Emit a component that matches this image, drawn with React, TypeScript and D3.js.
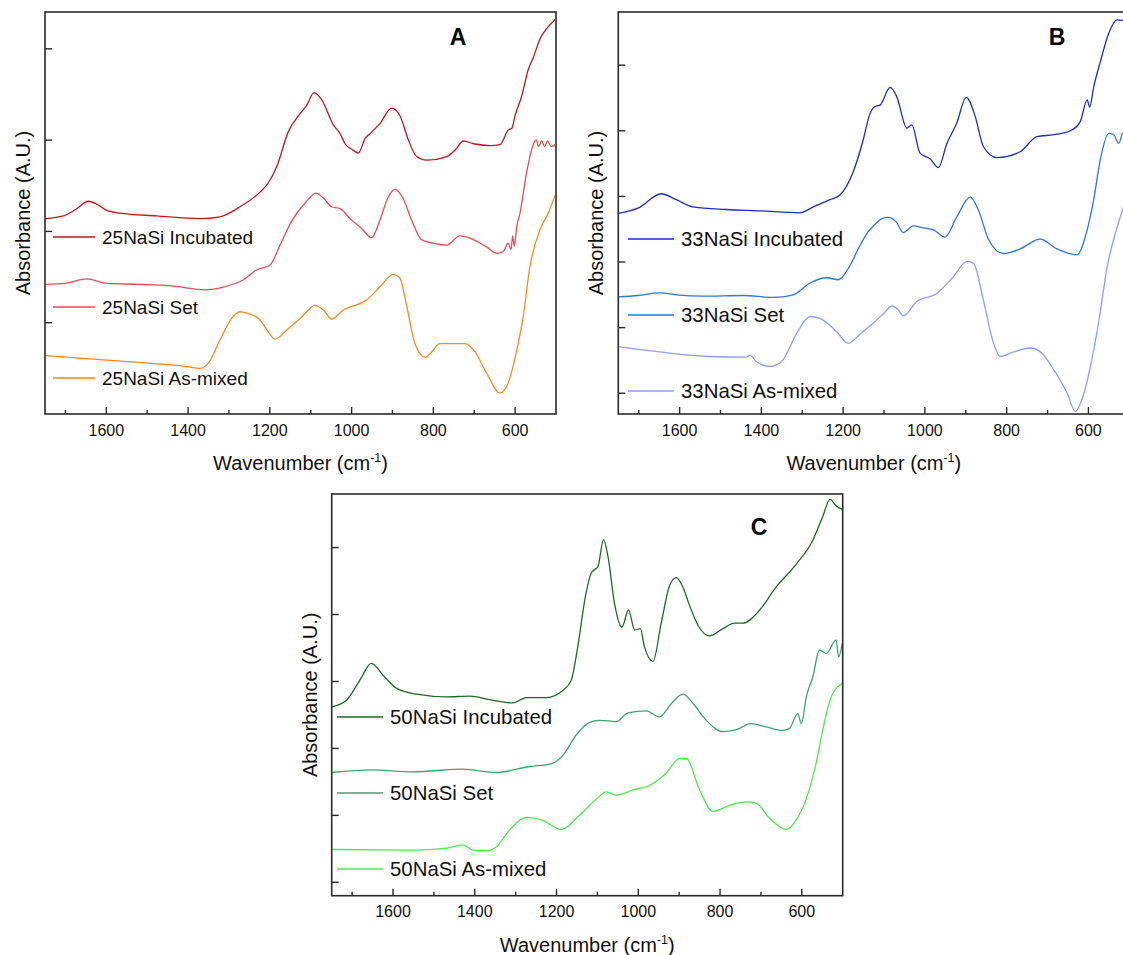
import React from 'react';
import * as d3 from 'd3';

const FONT = '"Liberation Sans", Arial, Helvetica, sans-serif';

// ---------- Panel A : 25NaSi ----------
const wnA_inc = [1750,1705,1675,1644,1620,1599,1567,1477,1371,1322,1273,1224,1204,1183,1155,1126,1110,1092,1073,1045,1028,1016,1000,983,967,955,931,902,882,861,841,816,767,745,727,702,661,637,617,608,600,584,568,555,539,523,502];
const abA_inc = [2.14,2.17,2.24,2.33,2.29,2.23,2.20,2.17,2.14,2.16,2.27,2.43,2.53,2.71,3.09,3.29,3.38,3.52,3.44,3.17,3.07,2.96,2.90,2.86,3.02,3.07,3.18,3.35,3.27,3.00,2.82,2.78,2.82,2.90,2.99,2.96,2.94,2.95,3.11,3.13,3.27,3.48,3.77,3.91,4.11,4.22,4.32];

const wnA_set = [1750,1701,1648,1599,1518,1436,1359,1314,1265,1232,1200,1175,1147,1110,1087,1070,1049,1028,1004,975,951,931,910,894,874,853,829,800,767,735,702,670,645,629,617,610,606,602,596,588,572,555,548,543,535,528,520,512,502];
const abA_set = [1.42,1.43,1.48,1.43,1.42,1.40,1.36,1.39,1.47,1.58,1.63,1.85,2.11,2.33,2.42,2.37,2.27,2.25,2.14,2.03,1.93,2.12,2.38,2.46,2.36,2.12,1.91,1.87,1.85,1.95,1.91,1.83,1.76,1.78,1.87,1.80,1.95,1.84,2.05,2.20,2.64,2.96,3.00,2.93,2.99,2.93,2.99,2.93,2.95];

const wnA_mix = [1750,1599,1477,1403,1371,1350,1322,1293,1273,1253,1224,1204,1187,1159,1118,1090,1069,1049,1020,963,931,898,882,865,845,820,804,784,751,723,698,670,637,617,596,580,564,539,519,502];
const abA_mix = [0.64,0.59,0.55,0.52,0.50,0.56,0.81,1.05,1.12,1.10,1.03,0.90,0.82,0.92,1.08,1.19,1.14,1.04,1.14,1.25,1.39,1.53,1.49,1.18,0.77,0.62,0.68,0.77,0.77,0.77,0.68,0.45,0.23,0.34,0.70,1.07,1.61,2.02,2.20,2.40];

// ---------- Panel B : 33NaSi ----------
const wnB_inc = [1750,1702,1645,1608,1567,1486,1404,1306,1273,1232,1208,1175,1151,1135,1122,1110,1085,1069,1044,1032,1012,987,967,946,922,899,877,857,824,767,726,685,644,620,603,597,587,571,550,530,514];
const abB_inc = [2.74,2.82,3.04,2.95,2.84,2.80,2.78,2.75,2.84,2.95,3.02,3.38,3.86,4.25,4.37,4.39,4.66,4.52,4.04,4.09,3.66,3.57,3.44,3.81,4.12,4.51,4.22,3.76,3.59,3.68,3.91,3.94,4.00,4.14,4.47,4.36,4.67,5.05,5.49,5.69,5.68];

const wnB_set = [1750,1702,1649,1608,1543,1445,1371,1322,1281,1240,1212,1183,1159,1140,1126,1105,1089,1069,1053,1028,1004,979,951,922,889,869,844,808,767,718,677,628,603,587,571,550,538,526,517];
const abB_set = [1.47,1.49,1.53,1.50,1.48,1.49,1.46,1.50,1.68,1.76,1.73,1.95,2.25,2.45,2.55,2.66,2.68,2.60,2.45,2.55,2.52,2.49,2.38,2.69,2.99,2.79,2.34,2.13,2.20,2.35,2.20,2.11,2.49,2.95,3.56,3.96,3.94,3.81,3.97];

const wnB_mix = [1750,1649,1526,1437,1428,1412,1379,1351,1314,1281,1257,1216,1188,1159,1126,1100,1081,1065,1053,1020,971,930,897,881,857,832,816,783,742,714,685,652,632,616,595,574,554,534,514];
const abB_mix = [0.71,0.63,0.56,0.55,0.58,0.48,0.41,0.48,0.91,1.17,1.14,0.94,0.76,0.90,1.07,1.22,1.33,1.27,1.18,1.40,1.52,1.78,2.01,1.98,1.42,0.76,0.56,0.63,0.69,0.61,0.36,0.00,-0.28,-0.10,0.41,1.12,1.93,2.44,2.84];

// ---------- Panel C : 50NaSi ----------
const wnC_inc = [1750,1714,1681,1653,1624,1592,1543,1469,1412,1364,1307,1274,1225,1184,1164,1148,1130,1115,1105,1099,1085,1074,1058,1040,1024,1009,995,985,964,944,923,907,891,875,854,826,793,764,744,704,663,614,573,549,531,516,501];
const abC_inc = [2.62,2.72,3.02,3.27,3.09,2.90,2.81,2.77,2.78,2.73,2.68,2.76,2.76,2.87,3.02,3.52,4.25,4.62,4.68,4.71,5.12,4.86,4.16,3.81,4.07,3.77,3.79,3.52,3.30,3.87,4.44,4.55,4.41,4.14,3.84,3.68,3.79,3.87,3.87,4.06,4.41,4.75,5.11,5.46,5.72,5.62,5.57];

const wnC_set = [1750,1653,1551,1429,1347,1266,1213,1184,1152,1119,1095,1054,1025,980,948,919,891,866,834,793,760,724,687,646,630,610,601,589,573,557,540,516,510,501];
const abC_set = [1.64,1.68,1.65,1.69,1.64,1.73,1.77,1.90,2.20,2.39,2.42,2.40,2.53,2.56,2.47,2.67,2.81,2.67,2.42,2.25,2.28,2.37,2.32,2.27,2.30,2.52,2.37,2.77,3.07,3.47,3.42,3.62,3.37,3.57];

const wnC_mix = [1750,1551,1469,1429,1404,1368,1347,1315,1274,1233,1188,1144,1103,1078,1054,1013,972,932,899,883,850,818,777,736,711,679,638,614,589,565,549,528,501];
const abC_mix = [0.49,0.48,0.51,0.56,0.48,0.47,0.53,0.78,0.97,0.92,0.79,1.00,1.24,1.35,1.30,1.38,1.45,1.63,1.85,1.85,1.38,1.06,1.15,1.20,1.18,0.96,0.79,0.93,1.25,1.78,2.27,2.77,2.97];

// ---------- axis ticks ----------
const xMajorTicks = [1600, 1400, 1200, 1000, 800, 600];
const xMinorTicks = [1700, 1500, 1300, 1100, 900, 700];
const xDomain = [1750, 500];

type Series = { label: string; wn: number[]; ab: number[]; color: string };

type PanelProps = {
  id: string;
  x0: number; x1: number; y0: number; y1: number;
  yDomain: [number, number];
  yTicks: number[];
  series: Series[];
  legLineX: [number, number];
  legTextX: number;
  legY: number[];
  legFont: number;
  title: string; titleX: number; titleY: number;
  labelFont: number;
};

function Panel(p: PanelProps) {
  const x = d3.scaleLinear().domain(xDomain).range([p.x0, p.x1]);
  const y = d3.scaleLinear().domain(p.yDomain).range([p.y1, p.y0]);
  const line = d3
    .line<[number, number]>()
    .x((d) => x(d[0]))
    .y((d) => y(d[1]))
    .curve(d3.curveMonotoneX);
  const axisColor = '#2a2a2a';
  const cx = (p.x0 + p.x1) / 2;
  const cy = (p.y0 + p.y1) / 2;
  return (
    <g>
      <defs>
        <clipPath id={'clip' + p.id}>
          <rect x={p.x0} y={p.y0} width={p.x1 - p.x0} height={p.y1 - p.y0} />
        </clipPath>
      </defs>
      <g clipPath={`url(#clip${p.id})`}>
        {p.series.map((s) => (
          <path
            key={s.label}
            d={line(s.wn.map((w, i) => [w, s.ab[i]] as [number, number])) || ''}
            fill="none"
            stroke={s.color}
            strokeWidth={1.3}
            strokeLinejoin="round"
          />
        ))}
      </g>
      <rect x={p.x0} y={p.y0} width={p.x1 - p.x0} height={p.y1 - p.y0} fill="none" stroke={axisColor} strokeWidth={1.6} />
      {xMajorTicks.map((t) => (
        <line key={'M' + t} x1={x(t)} x2={x(t)} y1={p.y1} y2={p.y1 - 7} stroke={axisColor} strokeWidth={1.4} />
      ))}
      {xMinorTicks.map((t) => (
        <line key={'m' + t} x1={x(t)} x2={x(t)} y1={p.y1} y2={p.y1 - 4} stroke={axisColor} strokeWidth={1.4} />
      ))}
      {xMajorTicks.map((t) => (
        <text key={'L' + t} x={x(t)} y={p.y1 + 21.5} textAnchor="middle" fontFamily={FONT} fontSize={16} fill="#111">
          {t}
        </text>
      ))}
      {p.yTicks.map((t) => (
        <line key={'y' + t} x1={p.x0} x2={p.x0 + 7} y1={y(t)} y2={y(t)} stroke={axisColor} strokeWidth={1.4} />
      ))}
      <text x={cx} y={p.y1 + 56} textAnchor="middle" fontFamily={FONT} fontSize={p.labelFont} fill="#111">
        Wavenumber (cm
        <tspan dy={-8} fontSize={p.labelFont * 0.62}>-1</tspan>
        <tspan dy={8}>)</tspan>
      </text>
      <text
        transform={`translate(${p.x0 - 15},${cy}) rotate(-90)`}
        textAnchor="middle"
        fontFamily={FONT}
        fontSize={p.labelFont}
        fill="#111"
      >
        Absorbance (A.U.)
      </text>
      <text x={p.titleX} y={p.titleY + 8} textAnchor="middle" fontFamily={FONT} fontWeight="bold" fontSize={23} fill="#000">
        {p.title}
      </text>
      {p.series.map((s, i) => (
        <g key={'leg' + s.label}>
          <line x1={p.legLineX[0]} x2={p.legLineX[1]} y1={p.legY[i]} y2={p.legY[i]} stroke={s.color} strokeWidth={1.3} />
          <text x={p.legTextX} y={p.legY[i] + p.legFont * 0.36} fontFamily={FONT} fontSize={p.legFont} fill="#111">
            {s.label}
          </text>
        </g>
      ))}
    </g>
  );
}

export default function App() {
  const seriesA: Series[] = [
    { label: '25NaSi Incubated', wn: wnA_inc, ab: abA_inc, color: '#c8141c' },
    { label: '25NaSi Set', wn: wnA_set, ab: abA_set, color: '#f04a52' },
    { label: '25NaSi As-mixed', wn: wnA_mix, ab: abA_mix, color: '#ff8a1c' },
  ];
  const seriesB: Series[] = [
    { label: '33NaSi Incubated', wn: wnB_inc, ab: abB_inc, color: '#1c2ccc' },
    { label: '33NaSi Set', wn: wnB_set, ab: abB_set, color: '#2a78e0' },
    { label: '33NaSi As-mixed', wn: wnB_mix, ab: abB_mix, color: '#8c9cff' },
  ];
  const seriesC: Series[] = [
    { label: '50NaSi Incubated', wn: wnC_inc, ab: abC_inc, color: '#1d6b22' },
    { label: '50NaSi Set', wn: wnC_set, ab: abC_set, color: '#3ca66c' },
    { label: '50NaSi As-mixed', wn: wnC_mix, ab: abC_mix, color: '#48ee48' },
  ];
  return (
    <svg
      width={1123}
      height={955}
      viewBox="0 0 1123 955"
      style={{ position: 'absolute', left: 0, top: 0, background: '#fff' }}
    >
      <rect x={0} y={0} width={1123} height={955} fill="#fff" />
      <Panel
        id="A"
        x0={45} x1={556} y0={12} y1={414}
        yDomain={[0, 4.403]}
        yTicks={[1, 2, 3, 4]}
        series={seriesA}
        legLineX={[53, 95]} legTextX={102} legY={[237, 307, 378]} legFont={19}
        title="A" titleX={458} titleY={37}
        labelFont={20}
      />
      <Panel
        id="B"
        x0={618.3} x1={1129.3} y0={12} y1={414}
        yDomain={[-0.316, 5.81]}
        yTicks={[0, 1, 2, 3, 4, 5]}
        series={seriesB}
        legLineX={[628, 674]} legTextX={681} legY={[239, 315, 391]} legFont={20.4}
        title="B" titleX={1057} titleY={37}
        labelFont={20}
      />
      <Panel
        id="C"
        x0={331.7} x1={842.7} y0={494} y1={895.7}
        yDomain={[-0.2, 5.8]}
        yTicks={[0, 1, 2, 3, 4, 5]}
        series={seriesC}
        legLineX={[337, 383]} legTextX={390} legY={[717, 793, 869]} legFont={20.4}
        title="C" titleX={759} titleY={527}
        labelFont={20}
      />
    </svg>
  );
}
